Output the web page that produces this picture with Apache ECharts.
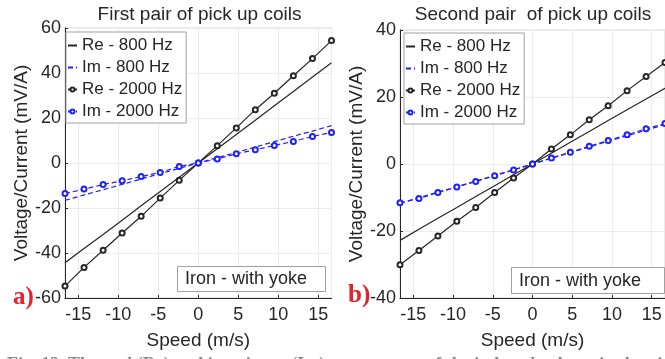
<!DOCTYPE html>
<html><head><meta charset="utf-8">
<script src="https://cdn.jsdelivr.net/npm/echarts@6/dist/echarts.min.js"></script>
<style>html,body{margin:0;padding:0;background:#fff}#c{width:665px;height:359px}</style>
</head><body><div id="c"></div>
<script>
// Speeds (m/s) at which measurements were taken
const speeds = [-16.67, -14.29, -11.90, -9.52, -7.14, -4.76, -2.38, 0, 2.38, 4.76, 7.14, 9.52, 11.90, 14.29, 16.67];
// First pair of pick up coils (mV/A)
const a_re800  = [-44.3, -38.0, -31.8, -25.4, -19.0, -12.7, -6.3, 0, 6.3, 12.7, 19.0, 25.4, 31.8, 38.2, 44.6];
const a_im800  = [-16.6, -14.2, -11.9, -9.5, -7.1, -4.7, -2.4, 0, 2.4, 4.7, 7.1, 9.5, 11.9, 14.2, 16.6];
const a_re2000 = [-54.7, -46.4, -38.8, -31.1, -23.7, -15.6, -7.7, 0, 7.7, 15.6, 23.7, 31.0, 38.8, 46.4, 54.4];
const a_im2000 = [-13.6, -11.6, -9.6, -7.9, -6.0, -4.2, -1.5, 0, 1.8, 4.1, 5.9, 7.8, 9.6, 11.8, 13.6];
// Second pair of pick up coils (mV/A)
const b_re800  = [-22.8, -19.5, -16.2, -13.0, -9.7, -6.5, -3.2, 0, 3.2, 6.5, 9.7, 13.0, 16.2, 19.4, 22.6];
const b_im800  = [-11.7, -10.1, -8.4, -6.8, -5.1, -3.4, -1.7, 0, 1.7, 3.4, 5.1, 6.8, 8.4, 10.1, 11.8];
const b_re2000 = [-30.1, -25.8, -21.5, -17.1, -13.0, -8.5, -4.2, 0, 4.5, 8.7, 13.2, 17.4, 21.9, 26.1, 30.3];
const b_im2000 = [-11.6, -10.3, -8.5, -6.9, -5.2, -3.5, -1.8, 0, 1.8, 3.5, 5.3, 7.0, 8.7, 10.5, 12.1];

const seriesNames = ['Re - 800 Hz', 'Im - 800 Hz', 'Re - 2000 Hz', 'Im - 2000 Hz'];
const titles = ['First pair of pick up coils', 'Second pair  of pick up coils'];
const yRanges = [[-60, 60], [-40, 40]];
const xName = 'Speed (m/s)';
const yName = 'Voltage/Current (mV/A)';
const boxText = 'Iron - with yoke';
const panelLabels = ['a)', 'b)'];
const caption = 'Fig. 13. The real (Re) and imaginary (Im) components of the induced voltage in the pick up coils';

const FONT = "'Liberation Sans', Arial, Helvetica, sans-serif";
const DARK = '#262626';
const BLUE = '#1f1fff';

function zip(x, y) { return x.map((v, i) => [v, y[i]]); }

const panels = [
  { re800: a_re800, im800: a_im800, re2000: a_re2000, im2000: a_im2000 },
  { re800: b_re800, im800: b_im800, re2000: b_re2000, im2000: b_im2000 }
];

const grids = [
  { left: 65, top: 28, width: 266.5, height: 270 },
  { left: 400, top: 30, width: 266, height: 268 }
];

const option = {
  animation: false,
  backgroundColor: '#fff',
  grid: grids.map(g => Object.assign({ show: true, borderColor: '#d6d6d6', borderWidth: 1, backgroundColor: 'transparent' }, g)),
  xAxis: grids.map((g, i) => ({
    type: 'value', gridIndex: i, min: -16.67, max: 16.67, splitNumber: 6,
    name: xName, nameLocation: 'middle', nameGap: 33,
    nameTextStyle: { fontFamily: FONT, fontSize: 19, color: DARK },
    axisLine: { onZero: false, lineStyle: { color: DARK, width: 1 } },
    axisTick: { show: true, inside: true, length: 3, lineStyle: { color: DARK } },
    axisLabel: { showMinLabel: false, showMaxLabel: false, fontFamily: FONT, fontSize: 18, color: DARK, margin: 8 },
    splitLine: { show: true, lineStyle: { color: '#ebebeb', width: 1 } }
  })),
  yAxis: grids.map((g, i) => ({
    type: 'value', gridIndex: i, min: yRanges[i][0], max: yRanges[i][1], interval: 20,
    name: yName, nameLocation: 'middle', nameGap: i === 0 ? 31 : 29,
    nameTextStyle: { fontFamily: FONT, fontSize: 19, color: DARK },
    axisLine: { show: true, onZero: false, lineStyle: { color: DARK, width: 1 } },
    axisTick: { show: true, inside: true, length: 3, lineStyle: { color: DARK } },
    axisLabel: { fontFamily: FONT, fontSize: 18, color: DARK, margin: 4 },
    splitLine: { show: true, lineStyle: { color: '#ebebeb', width: 1 } }
  })),
  legend: [
    { left: 66, top: 32 },
    { left: 404, top: 33 }
  ].map(l => ({
    left: l.left, top: l.top, orient: 'vertical', data: seriesNames,
    itemWidth: 9, itemHeight: 5, itemGap: 5, selectedMode: false,
    backgroundColor: '#fff', borderColor: '#a0a0a0', borderWidth: 1,
    padding: [5, 4, 3, 1],
    textStyle: { fontFamily: FONT, fontSize: 17, color: DARK, lineHeight: 16 }
  })),
  series: [],
  graphic: []
};

panels.forEach((p, i) => {
  const base = { type: 'line', xAxisIndex: i, yAxisIndex: i, smooth: false };
  option.series.push(Object.assign({}, base, {
    name: seriesNames[0], data: zip(speeds, p.re800), showSymbol: false, symbol: 'none',
    lineStyle: { color: DARK, width: 1.2 }, itemStyle: { color: DARK, opacity: 0 }, z: 3
  }));
  option.series.push(Object.assign({}, base, {
    name: seriesNames[1], data: zip(speeds, p.im800), showSymbol: false, symbol: 'none',
    lineStyle: { color: BLUE, width: 1.2, type: [5, 3] }, itemStyle: { color: BLUE, opacity: 0 }, z: 3
  }));
  option.series.push(Object.assign({}, base, {
    name: seriesNames[2], data: zip(speeds, p.re2000), symbol: 'emptyCircle', symbolSize: 5,
    lineStyle: { color: DARK, width: 1.2 }, itemStyle: { color: DARK, borderColor: DARK, borderWidth: 1 }, z: 4
  }));
  option.series.push(Object.assign({}, base, {
    name: seriesNames[3], data: zip(speeds, p.im2000), symbol: 'emptyCircle', symbolSize: 5,
    lineStyle: { color: BLUE, width: 1.2, type: [5, 3] }, itemStyle: { color: BLUE, borderColor: BLUE, borderWidth: 1 }, z: 4
  }));
});

// titles
[[199.5, 15], [533, 15]].forEach((pos, i) => {
  option.graphic.push({ type: 'text', x: pos[0], y: pos[1], z: 10,
    style: { text: titles[i], fontFamily: FONT, fontSize: 19, fill: DARK, textAlign: 'center', textVerticalAlign: 'middle' } });
});
// annotation boxes
[[177, 266, 148, 25], [511, 267, 153, 26]].forEach(b => {
  option.graphic.push({ type: 'rect', shape: { x: b[0] + 0.5, y: b[1] + 0.5, width: b[2], height: b[3] }, z: 20,
    style: { fill: '#fff', stroke: '#a0a0a0', lineWidth: 1 } });
  option.graphic.push({ type: 'text', x: b[0] + 8, y: b[1] + b[3] / 2 + 1, z: 21,
    style: { text: boxText, fontFamily: FONT, fontSize: 18, fill: DARK, textVerticalAlign: 'middle' } });
});
// panel labels
[[13, 298], [348, 296]].forEach((pos, i) => {
  option.graphic.push({ type: 'text', x: pos[0], y: pos[1], z: 30,
    style: { text: panelLabels[i], fontFamily: "'Liberation Serif', 'Times New Roman', serif", fontWeight: 'bold', fontSize: 25, fill: '#e3232b', textVerticalAlign: 'middle' } });
});
// clipped caption
option.graphic.push({ type: 'text', x: 7, y: 356, z: 30,
  style: { text: caption, fontFamily: "'Liberation Serif', 'Times New Roman', serif", fontWeight: 'bold', fontSize: 18, fill: '#8a8a8a', textVerticalAlign: 'top' } });

const chart = echarts.init(document.getElementById('c'), null, { renderer: 'canvas' });
chart.setOption(option);
</script></body></html>
